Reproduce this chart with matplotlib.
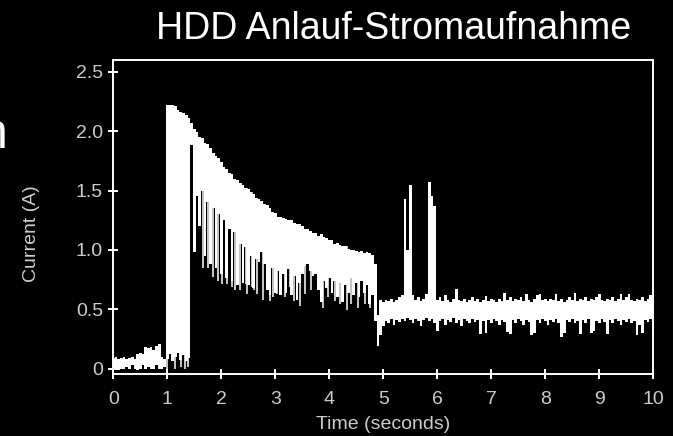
import numpy as np
import matplotlib
matplotlib.use("Agg")
import matplotlib.pyplot as plt

plt.rcParams['font.family'] = ['Liberation Sans', 'DejaVu Sans']

# sample grid: 0 .. 10 s in 0.05 s steps (201 samples)
t = np.round(np.arange(201) * 0.05, 2)

# upper edge of the current trace (A)
hi = [
    # 0.00 - 0.95  idle
    0.09, 0.10, 0.08, 0.09, 0.10, 0.08, 0.09, 0.10, 0.08, 0.12,
    0.13, 0.12, 0.18, 0.17, 0.18, 0.16, 0.19, 0.21, 0.10, 0.08,
    # 1.00 - 1.40  inrush block
    2.22, 2.22, 2.22, 2.21, 2.18, 2.16, 2.15, 2.14, 2.11,
    # 1.45 - 4.85  spin-up
    2.07, 2.02, 1.99, 1.95, 1.94, 1.90, 1.89, 1.86, 1.82, 1.79,
    1.77, 1.74, 1.70, 1.68, 1.65, 1.64, 1.60, 1.59, 1.56, 1.55,
    1.52, 1.51, 1.49, 1.47, 1.44, 1.43, 1.41, 1.39, 1.38, 1.35,
    1.32, 1.31, 1.28, 1.28, 1.27, 1.26, 1.25, 1.25, 1.23, 1.22,
    1.22, 1.20, 1.18, 1.18, 1.16, 1.14, 1.14, 1.12, 1.13, 1.11,
    1.10, 1.08, 1.08, 1.05, 1.06, 1.04, 1.03, 1.03, 1.01, 1.00,
    1.00, 0.99, 0.98, 0.99, 0.97, 0.98, 0.97, 0.96, 0.88,
    # 4.90 - 10.00  running
    0.45, 0.58, 0.56, 0.58, 0.57, 0.59, 0.56, 0.58, 0.60, 0.62,
    1.43, 1.00, 1.55, 0.62, 0.58, 0.60, 0.57, 0.59, 0.63, 1.57,
    1.45, 1.37, 0.58, 0.60, 0.57, 0.62, 0.58, 0.56, 0.59, 0.67,
    0.58, 0.57, 0.59, 0.56, 0.58, 0.60, 0.57, 0.59, 0.56, 0.58,
    0.61, 0.57, 0.59, 0.58, 0.56, 0.59, 0.57, 0.64, 0.58, 0.60,
    0.57, 0.59, 0.58, 0.60, 0.57, 0.63, 0.58, 0.56, 0.59, 0.62,
    0.63, 0.58, 0.59, 0.57, 0.59, 0.58, 0.63, 0.57, 0.59, 0.56,
    0.58, 0.60, 0.58, 0.64, 0.57, 0.59, 0.58, 0.60, 0.57, 0.59,
    0.58, 0.60, 0.63, 0.58, 0.57, 0.59, 0.58, 0.60, 0.57, 0.59,
    0.63, 0.58, 0.60, 0.63, 0.58, 0.57, 0.59, 0.58, 0.60, 0.57,
    0.59, 0.62, 0.58,
]

# lower edge of the current trace (A)
lo = [
    # 0.00 - 0.95
    0.00, 0.00, -0.01, 0.00, 0.00, 0.01, 0.00, 0.03, 0.00, -0.01,
    0.00, 0.03, 0.00, 0.01, 0.00, 0.00, 0.03, 0.00, 0.00, 0.01,
    # 1.00 - 1.40
    0.08, 0.12, 0.06, 0.10, 0.13, 0.07, 0.11, 0.06, 0.09,
    # 1.45 - 4.85
    1.88, 0.98, 1.45, 1.20, 1.50, 0.95, 1.40, 0.88, 1.35, 0.85,
    1.30, 0.80, 1.25, 0.76, 1.18, 0.74, 1.15, 0.70, 1.05, 0.72,
    1.02, 0.70, 0.95, 0.68, 0.92, 0.90, 0.98, 0.88, 0.66, 0.62,
    0.85, 0.64, 0.82, 0.62, 0.80, 0.64, 0.84, 0.62, 0.78, 0.58,
    0.72, 0.80, 0.86, 0.88, 0.82, 0.78, 0.80, 0.66, 0.56, 0.74,
    0.68, 0.76, 0.64, 0.74, 0.60, 0.72, 0.56, 0.70, 0.64, 0.76,
    0.62, 0.72, 0.60, 0.74, 0.64, 0.70, 0.54, 0.62, 0.40,
    # 4.90 - 10.00
    0.19, 0.28, 0.36, 0.40, 0.38, 0.42, 0.37, 0.41, 0.39, 0.42,
    0.40, 0.43, 0.41, 0.38, 0.42, 0.40, 0.36, 0.41, 0.43, 0.40,
    0.42, 0.38, 0.32, 0.40, 0.42, 0.37, 0.41, 0.39, 0.43, 0.38,
    0.41, 0.36, 0.42, 0.40, 0.38, 0.42, 0.39, 0.41, 0.29, 0.40,
    0.30, 0.41, 0.38, 0.42, 0.40, 0.37, 0.41, 0.39, 0.31, 0.29,
    0.41, 0.38, 0.42, 0.40, 0.37, 0.41, 0.39, 0.28, 0.30, 0.41,
    0.38, 0.42, 0.40, 0.37, 0.41, 0.39, 0.42, 0.38, 0.27, 0.30,
    0.41, 0.39, 0.42, 0.38, 0.40, 0.29, 0.41, 0.38, 0.42, 0.30,
    0.32, 0.40, 0.38, 0.42, 0.39, 0.29, 0.41, 0.38, 0.42, 0.40,
    0.37, 0.41, 0.39, 0.42, 0.38, 0.40, 0.28, 0.37, 0.30, 0.41,
    0.39, 0.42, 0.32,
]

# thin downward spikes during spin-up: time (s), lowest current (A)
spike_t = [1.67, 1.76, 1.85, 1.94, 2.01, 2.10, 2.19, 2.25, 2.35, 2.46,
           2.47, 2.56, 2.60, 2.66, 2.78, 2.90, 2.96, 3.03, 3.18, 3.27,
           3.34, 3.46, 3.55, 3.67, 3.89, 3.98, 4.11, 4.20, 4.32, 4.41,
           4.54, 4.66, 4.75]
spike_lo = [0.85, 0.85, 0.77, 0.74, 0.71, 0.71, 0.69, 0.66, 0.66, 0.71,
            0.63, 0.69, 0.66, 0.63, 0.58, 0.57, 0.60, 0.63, 0.60, 0.69,
            0.57, 0.53, 0.63, 0.66, 0.51, 0.60, 0.57, 0.54, 0.49, 0.54,
            0.51, 0.54, 0.51]

# narrow spikes at switch-on and inside the inrush block
edge_t = [0.99, 1.15, 1.25, 1.33, 1.38]
edge_lo = [0.00, 0.00, 0.01, 0.00, 0.01]
edge_hi = [1.02, 0.12, 0.12, 0.12, 0.12]

assert len(hi) == len(t) and len(lo) == len(t)

fig = plt.figure(figsize=(6.73, 4.36), dpi=100, facecolor='black')
ax = fig.add_axes([113.3 / 673, 1 - 374 / 436, 540 / 673, 314 / 436])
ax.set_facecolor('black')

ax.fill_between(t, lo, hi, step='mid', color='white', lw=0)
spike_top = [hi[int(round(s / 0.05))] for s in spike_t]
ax.vlines(spike_t, spike_lo, spike_top, color='white', lw=1.1)
ax.vlines(edge_t, edge_lo, edge_hi, color='white', lw=1.1)

ax.set_xlim(0, 10)
ax.set_ylim(-0.046, 2.6)
ax.set_xticks(range(0, 11))
ax.set_yticks([0, 0.5, 1.0, 1.5, 2.0, 2.5])
ax.set_yticklabels(['0', '0.5', '1.0', '1.5', '2.0', '2.5'])

for sp in ax.spines.values():
    sp.set_color('white')
    sp.set_linewidth(1.4)
ax.tick_params(direction='inout', length=7, width=1.4, color='white',
               labelcolor='#cccccc', labelsize=14)
ax.tick_params(axis='x', pad=9)
ax.tick_params(axis='y', pad=4)

fig.text(383 / 673, 1 - 424 / 436, 'Time (seconds)', color='#cccccc',
         fontsize=14, ha='center', va='center')
fig.text(32 / 673, 1 - 234 / 436, 'Current (A)', color='#cccccc',
         fontsize=14, ha='center', va='center', rotation=90)
fig.text(394 / 673, 1 - 39 / 436, 'HDD Anlauf-Stromaufnahme', color='white',
         fontsize=27, ha='center', va='baseline')
# cut-off word at the left edge of the slide
fig.text(8 / 673, 1 - 148 / 436, 'n', color='white', fontsize=36,
         ha='right', va='baseline')

fig.savefig('out.png', dpi=100, facecolor='black')
